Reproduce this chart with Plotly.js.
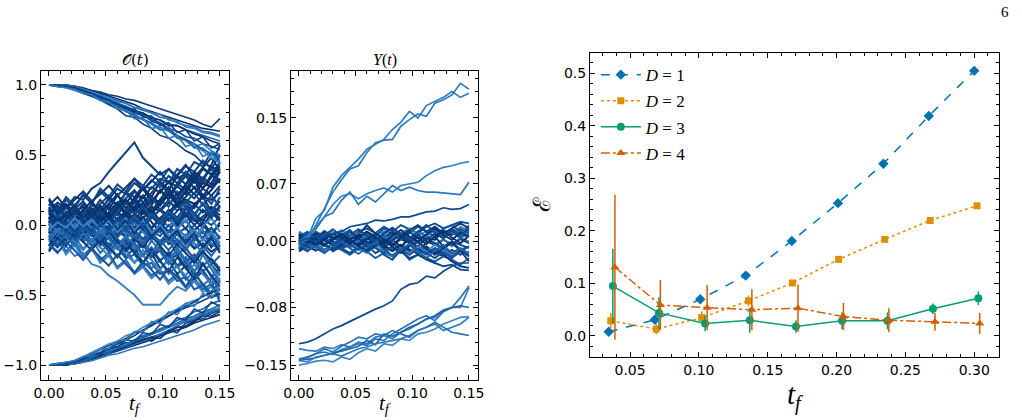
<!DOCTYPE html>
<html><head><meta charset="utf-8">
<script src="https://cdn.plot.ly/plotly-3.0.1.min.js"></script>
<style>html,body{margin:0;padding:0;background:#fff}#c{width:1022px;height:420px}</style>
</head><body><div id="c"></div>
<script>
// ---- time grid for trajectories ----
const tGrid = [0,0.0075,0.015,0.0225,0.03,0.0375,0.045,0.0525,0.06,0.0675,0.075,0.0825,0.09,0.0975,0.105,0.1125,0.12,0.1275,0.135,0.1425,0.15];

// ---- O(t) trajectories: upper branch ----
const O_top = [
[1.00,1.00,1.00,0.99,0.97,0.96,0.94,0.92,0.90,0.88,0.86,0.83,0.81,0.79,0.77,0.75,0.73,0.71,0.69,0.68,0.67],
[1.00,1.00,0.99,0.98,0.96,0.94,0.92,0.90,0.87,0.85,0.82,0.80,0.77,0.75,0.72,0.71,0.68,0.66,0.64,0.62,0.60],
[1.00,0.99,0.99,0.97,0.95,0.93,0.91,0.88,0.86,0.83,0.80,0.78,0.75,0.73,0.69,0.67,0.63,0.62,0.58,0.56,0.54],
[1.00,1.00,0.99,0.97,0.95,0.92,0.90,0.87,0.83,0.82,0.77,0.76,0.72,0.68,0.70,0.63,0.61,0.56,0.58,0.53,0.50],
[1.00,1.00,1.00,0.99,0.98,0.96,0.95,0.93,0.92,0.90,0.89,0.87,0.85,0.83,0.81,0.79,0.77,0.75,0.72,0.70,0.76],
[1.00,0.99,0.98,0.96,0.94,0.92,0.89,0.86,0.84,0.81,0.78,0.76,0.72,0.70,0.67,0.63,0.60,0.56,0.53,0.48,0.45],
[1.00,1.00,0.99,0.98,0.96,0.94,0.91,0.89,0.85,0.84,0.80,0.79,0.74,0.72,0.68,0.64,0.61,0.58,0.54,0.51,0.46],
[1.00,1.00,1.00,0.99,0.97,0.95,0.93,0.91,0.89,0.87,0.84,0.82,0.80,0.77,0.76,0.73,0.71,0.70,0.67,0.66,0.64],
[1.00,0.99,0.99,0.97,0.94,0.92,0.90,0.86,0.83,0.78,0.77,0.72,0.69,0.64,0.62,0.58,0.53,0.50,0.44,0.42,0.38],
[1.00,1.00,0.99,0.98,0.97,0.95,0.93,0.91,0.88,0.87,0.84,0.83,0.80,0.79,0.75,0.74,0.70,0.69,0.66,0.65,0.63],
[1.00,1.00,0.99,0.98,0.96,0.94,0.91,0.89,0.86,0.84,0.81,0.80,0.76,0.75,0.71,0.71,0.68,0.65,0.63,0.60,0.58],
[1.00,0.99,0.99,0.97,0.95,0.93,0.90,0.87,0.85,0.81,0.79,0.75,0.73,0.68,0.68,0.62,0.61,0.55,0.55,0.50,0.48],
[1.00,1.00,0.99,0.97,0.96,0.93,0.92,0.88,0.87,0.82,0.83,0.77,0.78,0.71,0.73,0.66,0.68,0.60,0.63,0.55,0.58],
[1.00,0.99,0.98,0.97,0.94,0.93,0.89,0.88,0.83,0.82,0.76,0.76,0.69,0.70,0.62,0.64,0.56,0.58,0.49,0.52,0.43]
];
// ---- O(t) trajectories: lower branch ----
const O_bot = [
[-1.00,-1.00,-1.00,-0.99,-0.98,-0.96,-0.94,-0.92,-0.90,-0.88,-0.86,-0.84,-0.82,-0.79,-0.77,-0.75,-0.73,-0.70,-0.68,-0.66,-0.64],
[-1.00,-1.00,-0.99,-0.98,-0.96,-0.94,-0.91,-0.89,-0.87,-0.85,-0.82,-0.79,-0.77,-0.75,-0.72,-0.70,-0.67,-0.65,-0.62,-0.60,-0.57],
[-1.00,-0.99,-0.99,-0.97,-0.95,-0.92,-0.89,-0.86,-0.84,-0.81,-0.77,-0.76,-0.71,-0.69,-0.65,-0.62,-0.59,-0.57,-0.54,-0.51,-0.49],
[-1.00,-1.00,-1.00,-0.99,-0.98,-0.97,-0.95,-0.93,-0.92,-0.90,-0.88,-0.87,-0.85,-0.83,-0.81,-0.79,-0.77,-0.75,-0.72,-0.70,-0.68],
[-1.00,-1.00,-0.99,-0.97,-0.96,-0.93,-0.92,-0.88,-0.87,-0.84,-0.85,-0.80,-0.83,-0.79,-0.75,-0.77,-0.70,-0.68,-0.64,-0.63,-0.60],
[-1.00,-0.99,-0.98,-0.97,-0.94,-0.91,-0.88,-0.85,-0.83,-0.79,-0.77,-0.73,-0.70,-0.67,-0.63,-0.60,-0.56,-0.54,-0.51,-0.47,-0.44],
[-1.00,-1.00,-0.99,-0.98,-0.97,-0.95,-0.93,-0.90,-0.89,-0.86,-0.85,-0.82,-0.81,-0.78,-0.77,-0.73,-0.72,-0.68,-0.67,-0.63,-0.61],
[-1.00,-1.00,-1.00,-0.99,-0.97,-0.95,-0.93,-0.92,-0.89,-0.88,-0.85,-0.83,-0.80,-0.78,-0.75,-0.72,-0.69,-0.67,-0.64,-0.62,-0.60],
[-1.00,-0.99,-0.99,-0.98,-0.96,-0.93,-0.91,-0.88,-0.85,-0.82,-0.79,-0.75,-0.72,-0.68,-0.65,-0.61,-0.58,-0.55,-0.51,-0.48,-0.46],
[-1.00,-1.00,-0.99,-0.98,-0.96,-0.94,-0.92,-0.90,-0.88,-0.85,-0.83,-0.81,-0.78,-0.76,-0.73,-0.71,-0.68,-0.66,-0.63,-0.61,-0.59],
[-1.00,-1.00,-1.00,-0.98,-0.97,-0.95,-0.93,-0.91,-0.89,-0.87,-0.84,-0.82,-0.80,-0.81,-0.76,-0.73,-0.73,-0.69,-0.65,-0.65,-0.62],
[-1.00,-1.00,-0.99,-0.99,-0.97,-0.95,-0.92,-0.91,-0.88,-0.86,-0.83,-0.80,-0.78,-0.74,-0.72,-0.68,-0.66,-0.62,-0.60,-0.56,-0.54],
[-1.00,-1.00,-0.99,-0.97,-0.96,-0.93,-0.92,-0.88,-0.87,-0.82,-0.83,-0.77,-0.78,-0.71,-0.73,-0.66,-0.68,-0.60,-0.63,-0.55,-0.58],
[-1.00,-0.99,-0.98,-0.97,-0.94,-0.93,-0.89,-0.88,-0.83,-0.82,-0.76,-0.76,-0.69,-0.70,-0.62,-0.64,-0.56,-0.58,-0.49,-0.52,-0.45]
];
// ---- O(t) trajectories: central band ----
const O_mid = [
[0.05,-0.03,0.08,0.02,0.10,0.04,0.12,0.06,0.15,0.10,0.18,0.12,0.20,0.16,0.24,0.19,0.28,0.22,0.30,0.27,0.33],
[-0.04,0.03,-0.07,-0.01,-0.10,-0.05,-0.13,-0.08,-0.16,-0.11,-0.20,-0.14,-0.23,-0.18,-0.26,-0.21,-0.30,-0.25,-0.33,-0.28,-0.36],
[0.15,0.08,0.18,0.12,0.22,0.15,0.26,0.20,0.29,0.24,0.33,0.28,0.36,0.31,0.40,0.35,0.42,0.38,0.46,0.40,0.50],
[-0.15,-0.08,-0.19,-0.12,-0.22,-0.16,-0.25,-0.20,-0.30,-0.25,-0.34,-0.29,-0.36,-0.32,-0.40,-0.35,-0.44,-0.38,-0.46,-0.42,-0.50],
[0.00,0.06,-0.02,0.05,0.01,0.08,0.02,0.09,0.04,0.10,0.03,0.12,0.05,0.11,0.07,0.14,0.06,0.15,0.09,0.13,0.10],
[0.02,-0.05,0.01,-0.06,-0.02,-0.08,-0.03,-0.10,-0.04,-0.09,-0.06,-0.12,-0.05,-0.14,-0.08,-0.13,-0.07,-0.16,-0.10,-0.15,-0.12],
[0.19,0.10,0.20,0.14,0.21,0.16,0.24,0.18,0.26,0.22,0.30,0.25,0.32,0.27,0.35,0.30,0.38,0.33,0.41,0.36,0.44],
[-0.18,-0.10,-0.21,-0.14,-0.24,-0.17,-0.27,-0.22,-0.31,-0.26,-0.35,-0.30,-0.38,-0.33,-0.42,-0.37,-0.45,-0.40,-0.48,-0.44,-0.52],
[0.08,0.01,0.10,0.04,0.11,0.06,0.14,0.07,0.16,0.09,0.17,0.12,0.20,0.14,0.22,0.16,0.24,0.19,0.26,0.21,0.28],
[-0.08,-0.01,-0.11,-0.04,-0.12,-0.06,-0.15,-0.09,-0.17,-0.10,-0.19,-0.13,-0.21,-0.16,-0.24,-0.18,-0.26,-0.21,-0.29,-0.24,-0.31],
[0.04,0.10,0.03,0.12,0.06,0.15,0.10,0.19,0.13,0.23,0.16,0.27,0.20,0.31,0.25,0.35,0.29,0.38,0.33,0.42,0.37],
[-0.03,-0.10,-0.02,-0.12,-0.05,-0.15,-0.09,-0.19,-0.12,-0.23,-0.16,-0.27,-0.20,-0.31,-0.25,-0.35,-0.29,-0.39,-0.33,-0.43,-0.38],
[0.00,-0.02,0.03,0.00,0.04,-0.01,0.05,0.01,0.03,-0.02,0.04,0.00,0.06,0.02,0.05,-0.01,0.07,0.03,0.04,0.00,0.06],
[-0.01,0.02,-0.04,0.01,-0.03,0.03,-0.05,0.00,-0.06,0.02,-0.04,-0.01,-0.07,0.01,-0.05,-0.03,-0.08,0.00,-0.06,-0.02,-0.09],
[0.11,0.04,0.13,0.07,0.15,0.09,0.18,0.11,0.21,0.15,0.24,0.19,0.27,0.23,0.31,0.27,0.36,0.31,0.40,0.36,0.45],
[-0.12,-0.05,-0.14,-0.08,-0.17,-0.10,-0.20,-0.13,-0.23,-0.17,-0.27,-0.21,-0.31,-0.25,-0.35,-0.29,-0.39,-0.33,-0.43,-0.38,-0.47],
[0.10,0.16,0.12,0.20,0.18,0.26,0.30,0.38,0.45,0.52,0.59,0.48,0.42,0.36,0.40,0.33,0.37,0.30,0.34,0.29,0.32],
[-0.13,-0.19,-0.15,-0.22,-0.20,-0.28,-0.30,-0.36,-0.40,-0.45,-0.50,-0.57,-0.57,-0.57,-0.50,-0.44,-0.47,-0.40,-0.43,-0.38,-0.41],
[0.06,0.00,0.09,0.05,0.07,0.12,0.08,0.15,0.10,0.18,0.12,0.20,0.15,0.25,0.18,0.28,0.22,0.32,0.26,0.36,0.30],
[-0.06,0.00,-0.09,-0.04,-0.07,-0.12,-0.08,-0.16,-0.10,-0.19,-0.13,-0.22,-0.16,-0.26,-0.19,-0.29,-0.23,-0.33,-0.27,-0.37,-0.31],
[0.13,0.06,0.09,0.02,0.07,0.00,0.06,0.03,0.09,0.05,0.11,0.08,0.13,0.10,0.16,0.13,0.18,0.15,0.20,0.18,0.23],
[-0.10,-0.16,-0.09,-0.14,-0.06,-0.11,-0.05,-0.09,-0.03,-0.08,-0.04,-0.10,-0.06,-0.12,-0.08,-0.14,-0.10,-0.17,-0.13,-0.19,-0.15],
[0.02,0.08,0.04,0.10,0.07,0.14,0.11,0.18,0.15,0.23,0.20,0.28,0.26,0.33,0.30,0.40,0.36,0.45,0.42,0.52,0.48],
[-0.02,-0.08,-0.04,-0.11,-0.08,-0.15,-0.12,-0.19,-0.16,-0.24,-0.21,-0.29,-0.27,-0.35,-0.32,-0.40,-0.37,-0.46,-0.43,-0.52,-0.49],
[0.17,0.12,0.15,0.09,0.13,0.07,0.12,0.05,0.10,0.03,0.08,0.02,0.07,0.00,0.05,-0.02,0.03,-0.04,0.02,-0.06,0.00],
[-0.17,-0.11,-0.14,-0.07,-0.12,-0.05,-0.10,-0.03,-0.08,0.00,-0.05,0.02,-0.03,0.04,-0.01,0.06,0.02,0.08,0.03,0.10,0.05],
[0.03,-0.04,0.06,0.00,0.08,0.03,0.11,0.05,0.13,0.08,0.16,0.10,0.19,0.14,0.23,0.18,0.27,0.22,0.32,0.27,0.38],
[-0.05,0.01,-0.06,-0.01,-0.09,-0.03,-0.11,-0.06,-0.14,-0.08,-0.17,-0.11,-0.20,-0.15,-0.24,-0.19,-0.28,-0.23,-0.33,-0.28,-0.40],
[0.09,0.14,0.06,0.12,0.04,0.10,0.05,0.13,0.07,0.16,0.11,0.21,0.14,0.25,0.19,0.30,0.25,0.36,0.31,0.43,0.57],
[-0.09,-0.14,-0.07,-0.13,-0.05,-0.11,-0.07,-0.14,-0.10,-0.17,-0.13,-0.21,-0.17,-0.25,-0.21,-0.30,-0.26,-0.36,-0.32,-0.41,-0.55],
[0.12,-0.02,0.05,-0.08,0.02,-0.05,0.08,0.01,-0.06,0.04,-0.03,0.10,0.02,-0.05,0.07,0.00,0.12,0.04,-0.02,0.09,0.03],
[-0.06,0.08,-0.03,0.05,-0.09,0.02,-0.04,0.06,-0.08,-0.01,-0.12,-0.03,-0.09,0.01,-0.14,-0.06,-0.02,-0.11,-0.04,-0.16,-0.08],
[0.00,0.10,0.04,0.14,0.06,0.02,0.11,0.05,0.16,0.09,0.20,0.12,0.08,0.18,0.13,0.24,0.17,0.12,0.22,0.15,0.26],
[0.03,-0.09,-0.02,-0.12,-0.05,-0.15,-0.08,-0.04,-0.14,-0.09,-0.19,-0.12,-0.22,-0.15,-0.10,-0.21,-0.16,-0.25,-0.18,-0.28,-0.22],
[-0.15,-0.05,-0.11,0.00,-0.07,0.04,-0.03,0.06,0.00,0.09,0.03,-0.02,0.07,0.02,0.11,0.05,0.14,0.08,0.03,0.12,0.07],
[0.15,0.05,0.10,-0.02,0.06,-0.04,0.03,-0.07,0.01,-0.05,-0.10,-0.02,-0.08,0.00,-0.12,-0.06,-0.15,-0.09,-0.04,-0.13,-0.18],
[0.07,0.13,0.05,0.11,0.17,0.09,0.15,0.21,0.13,0.19,0.25,0.16,0.23,0.30,0.22,0.28,0.35,0.26,0.33,0.40,0.31],
[-0.07,-0.14,-0.06,-0.12,-0.18,-0.10,-0.16,-0.22,-0.14,-0.21,-0.27,-0.18,-0.25,-0.32,-0.24,-0.30,-0.36,-0.28,-0.35,-0.42,-0.33],
[0.01,0.05,-0.03,0.02,0.07,0.00,0.04,-0.04,0.03,0.08,0.01,0.06,-0.02,0.05,0.10,0.02,0.07,0.00,0.06,0.11,0.04],
[-0.02,-0.07,0.01,-0.04,0.03,-0.03,-0.08,-0.01,-0.06,0.02,-0.05,-0.10,-0.03,-0.08,0.00,-0.07,-0.12,-0.04,-0.09,-0.02,-0.10],
[0.18,0.08,0.14,0.04,0.11,0.17,0.09,0.15,0.22,0.12,0.19,0.26,0.17,0.24,0.31,0.21,0.29,0.36,0.26,0.34,0.42],
[-0.19,-0.09,-0.15,-0.05,-0.12,-0.18,-0.10,-0.16,-0.23,-0.13,-0.20,-0.27,-0.18,-0.26,-0.33,-0.23,-0.31,-0.38,-0.28,-0.36,-0.44],
[0.05,0.00,0.09,0.03,-0.02,0.06,0.12,0.04,0.10,0.16,0.08,0.14,0.20,0.11,0.18,0.10,0.16,0.23,0.14,0.21,0.13],
[-0.05,0.00,-0.09,-0.03,0.02,-0.06,-0.12,-0.04,-0.10,-0.16,-0.08,-0.14,-0.20,-0.11,-0.18,-0.10,-0.17,-0.24,-0.15,-0.22,-0.14],
[0.09,0.02,0.07,-0.01,0.04,-0.03,0.02,0.08,0.00,0.06,-0.02,0.05,0.11,0.03,0.09,0.16,0.07,0.13,0.20,0.10,0.17],
[-0.09,-0.02,-0.07,0.01,-0.04,0.03,-0.02,-0.08,0.00,-0.06,0.02,-0.05,-0.11,-0.03,-0.09,-0.16,-0.07,-0.13,-0.20,-0.10,-0.17],
[0.00,0.03,-0.05,0.04,-0.02,0.07,0.01,-0.06,0.03,-0.04,0.06,-0.01,0.09,0.02,-0.05,0.05,-0.03,0.08,0.00,-0.07,0.02],
[0.01,-0.04,0.05,-0.02,0.06,-0.03,0.02,-0.07,0.01,0.05,-0.04,0.03,-0.08,0.00,0.07,-0.03,0.04,-0.09,-0.01,0.05,-0.05],
[0.14,0.20,0.12,0.18,0.24,0.17,0.22,0.28,0.21,0.27,0.33,0.25,0.31,0.38,0.30,0.36,0.43,0.34,0.41,0.48,0.39],
[-0.14,-0.20,-0.12,-0.18,-0.25,-0.17,-0.23,-0.29,-0.21,-0.28,-0.34,-0.26,-0.32,-0.39,-0.31,-0.37,-0.44,-0.35,-0.42,-0.49,-0.40],
[0.06,-0.01,0.04,0.10,0.02,0.07,0.13,0.05,0.12,0.18,0.10,0.16,0.08,0.15,0.22,0.14,0.20,0.27,0.19,0.25,0.33],
[-0.06,0.01,-0.04,-0.10,-0.02,-0.07,-0.13,-0.05,-0.12,-0.18,-0.10,-0.16,-0.08,-0.15,-0.22,-0.14,-0.20,-0.27,-0.19,-0.25,-0.33],
[0.02,0.07,0.00,0.05,-0.01,0.04,0.09,0.02,0.08,0.01,0.07,0.13,0.05,0.11,0.03,0.10,0.17,0.08,0.15,0.06,0.14],
[-0.03,-0.08,-0.01,-0.06,0.00,-0.05,-0.10,-0.03,-0.09,-0.02,-0.08,-0.14,-0.06,-0.12,-0.04,-0.11,-0.18,-0.09,-0.16,-0.07,-0.15],
[0.10,0.03,0.08,0.14,0.05,0.11,0.03,0.09,0.16,0.07,0.13,0.21,0.10,0.18,0.27,0.15,0.24,0.33,0.20,0.30,0.40],
[-0.11,-0.04,-0.09,-0.15,-0.06,-0.12,-0.04,-0.10,-0.17,-0.08,-0.14,-0.22,-0.11,-0.19,-0.28,-0.16,-0.25,-0.34,-0.21,-0.31,-0.42],
[0.04,-0.02,0.02,-0.05,0.01,-0.04,0.03,-0.03,0.05,-0.01,0.04,-0.03,0.06,0.00,0.08,0.02,0.09,0.03,0.11,0.05,0.13],
[-0.04,0.02,-0.02,0.05,-0.01,0.04,-0.03,0.03,-0.05,0.01,-0.04,0.03,-0.06,0.00,-0.08,-0.02,-0.09,-0.03,-0.11,-0.05,-0.13],
[0.08,0.14,0.05,0.10,0.02,0.07,-0.01,0.05,-0.03,0.03,-0.06,0.01,-0.08,-0.02,-0.10,-0.04,-0.13,-0.06,-0.16,-0.09,-0.20],
[-0.08,-0.14,-0.05,-0.10,-0.02,-0.07,0.01,-0.05,0.03,-0.03,0.06,-0.01,0.08,0.02,0.10,0.04,0.13,0.06,0.16,0.09,0.20]
];
// ---- Y(t) trajectories: drifting ones ----
const Y_drift = [
[0.000,0.002,0.020,0.040,0.060,0.075,0.088,0.092,0.108,0.120,0.123,0.124,0.140,0.148,0.155,0.152,0.168,0.172,0.178,0.192,0.185],
[0.000,0.004,0.028,0.038,0.066,0.080,0.090,0.100,0.112,0.118,0.124,0.136,0.145,0.158,0.150,0.165,0.170,0.175,0.182,0.175,0.180],
[0.000,0.005,0.018,0.030,0.045,0.055,0.058,0.052,0.058,0.062,0.065,0.060,0.068,0.070,0.072,0.080,0.086,0.090,0.092,0.095,0.097],
[0.000,0.008,0.015,0.030,0.035,0.050,0.060,0.045,0.055,0.048,0.058,0.068,0.062,0.066,0.062,0.060,0.060,0.059,0.058,0.057,0.072],
[0.000,0.004,-0.002,0.006,0.010,0.012,0.018,0.020,0.022,0.026,0.025,0.027,0.030,0.030,0.033,0.036,0.037,0.041,0.039,0.040,0.045],
[-0.124,-0.122,-0.118,-0.112,-0.106,-0.102,-0.097,-0.092,-0.087,-0.082,-0.078,-0.072,-0.058,-0.052,-0.050,-0.042,-0.044,-0.036,-0.030,-0.026,-0.026],
[-0.130,-0.132,-0.133,-0.128,-0.130,-0.125,-0.128,-0.122,-0.124,-0.116,-0.114,-0.118,-0.110,-0.106,-0.100,-0.094,-0.092,-0.084,-0.080,-0.080,-0.056],
[-0.143,-0.140,-0.136,-0.134,-0.137,-0.131,-0.128,-0.124,-0.126,-0.118,-0.120,-0.112,-0.106,-0.100,-0.094,-0.090,-0.096,-0.085,-0.080,-0.068,-0.054],
[-0.142,-0.143,-0.141,-0.138,-0.135,-0.133,-0.130,-0.127,-0.120,-0.125,-0.112,-0.115,-0.110,-0.104,-0.100,-0.094,-0.090,-0.083,-0.080,-0.078,-0.080],
[-0.150,-0.148,-0.145,-0.144,-0.146,-0.140,-0.143,-0.135,-0.130,-0.133,-0.124,-0.126,-0.118,-0.120,-0.112,-0.110,-0.106,-0.100,-0.096,-0.092,-0.091],
[-0.144,-0.146,-0.140,-0.138,-0.136,-0.139,-0.134,-0.130,-0.128,-0.124,-0.122,-0.120,-0.118,-0.114,-0.108,-0.104,-0.100,-0.108,-0.104,-0.100,-0.092],
[-0.145,-0.141,-0.136,-0.130,-0.134,-0.127,-0.122,-0.116,-0.118,-0.112,-0.114,-0.108,-0.112,-0.116,-0.108,-0.104,-0.098,-0.104,-0.110,-0.112,-0.114]
];
// ---- Y(t) trajectories: central band ----
const Y_band = [
[0.004,-0.003,0.006,0.001,-0.004,0.005,0.002,-0.003,0.008,0.003,-0.002,0.010,0.005,0.000,0.012,0.006,0.002,0.014,0.008,0.015,0.010],
[-0.005,0.002,-0.006,0.003,-0.002,-0.008,0.001,-0.005,-0.010,0.000,-0.006,-0.012,-0.004,-0.010,-0.015,-0.008,-0.013,-0.018,-0.010,-0.016,-0.012],
[0.010,0.004,0.012,0.006,0.014,0.008,0.004,0.012,0.016,0.010,0.018,0.012,0.020,0.015,0.010,0.018,0.022,0.016,0.020,0.024,0.022],
[-0.010,-0.004,-0.008,-0.014,-0.006,-0.010,-0.016,-0.008,-0.012,-0.020,-0.014,-0.018,-0.010,-0.022,-0.016,-0.020,-0.024,-0.018,-0.022,-0.028,-0.020],
[0.000,0.006,-0.002,0.004,0.000,-0.004,0.006,0.002,-0.003,0.004,0.000,-0.005,0.003,-0.002,0.005,0.000,-0.004,0.002,-0.003,0.003,-0.002],
[0.002,-0.005,0.003,-0.004,0.005,-0.002,-0.006,0.003,-0.004,0.006,-0.003,0.002,-0.007,0.004,-0.002,0.007,-0.004,0.003,-0.006,0.005,0.000],
[-0.008,0.000,-0.010,-0.003,-0.012,-0.006,-0.002,-0.010,-0.004,-0.014,-0.008,-0.018,-0.012,-0.020,-0.016,-0.022,-0.026,-0.030,-0.028,-0.034,-0.035],
[0.012,0.006,0.010,0.002,0.008,0.014,0.006,0.010,0.002,0.008,0.012,0.004,0.010,0.016,0.008,0.012,0.006,0.014,0.010,0.018,0.012],
[-0.012,-0.006,-0.011,-0.004,-0.009,-0.002,-0.007,0.000,-0.006,0.002,-0.005,-0.010,-0.004,-0.012,-0.006,-0.014,-0.008,-0.016,-0.024,-0.030,-0.032],
[0.006,0.012,0.004,0.010,0.002,0.008,0.014,0.004,0.012,0.006,0.016,0.008,0.002,0.010,0.018,0.012,0.006,0.016,0.020,0.012,0.018],
[-0.003,0.004,0.010,0.002,-0.004,0.006,0.000,-0.006,0.004,-0.002,-0.008,0.002,-0.006,0.004,-0.010,-0.002,0.006,-0.006,0.000,-0.010,-0.006],
[0.008,0.000,0.005,0.011,0.003,0.009,0.002,0.008,0.020,0.010,0.004,0.012,0.006,-0.002,0.008,0.002,0.010,0.004,0.012,0.006,0.008],
[-0.006,-0.012,-0.004,-0.010,-0.002,-0.008,-0.014,-0.006,-0.012,-0.004,-0.016,-0.022,-0.010,-0.016,-0.008,-0.014,-0.020,-0.012,-0.018,-0.010,-0.016],
[0.003,0.009,0.003,0.008,0.015,0.006,0.012,0.004,0.010,0.000,0.008,0.002,0.010,0.004,0.000,0.008,0.014,0.006,0.012,0.004,0.014],
[0.000,-0.006,0.002,-0.004,0.004,0.010,0.002,0.008,0.000,-0.006,0.004,-0.002,-0.010,-0.004,-0.012,-0.006,-0.014,-0.008,-0.016,-0.010,-0.018],
[-0.004,0.002,-0.003,-0.010,-0.002,0.004,-0.006,0.000,0.008,-0.002,0.006,0.000,0.010,0.004,0.012,0.006,0.014,0.008,0.016,0.010,0.020],
[0.005,0.000,0.008,0.002,-0.004,0.002,0.012,0.004,-0.002,0.006,-0.004,0.002,0.008,0.000,-0.006,0.004,-0.002,-0.008,0.000,-0.004,-0.008],
[-0.007,-0.002,-0.009,-0.004,-0.010,-0.004,0.000,-0.008,-0.014,-0.006,-0.012,-0.018,-0.008,-0.014,-0.006,-0.012,-0.004,-0.010,-0.016,-0.008,-0.014],
[0.001,0.007,0.000,-0.005,0.004,0.008,-0.002,0.004,-0.004,0.002,0.010,0.016,0.008,0.014,0.020,0.012,0.018,0.010,0.016,0.022,0.016],
[-0.001,-0.007,0.001,0.006,-0.003,-0.009,-0.004,-0.010,-0.002,-0.008,-0.014,-0.006,-0.012,-0.004,-0.010,-0.016,-0.008,-0.014,-0.020,-0.012,-0.006],
[0.009,0.002,-0.004,0.003,0.010,0.004,-0.003,0.006,0.012,0.005,-0.002,0.007,0.014,0.006,0.000,0.009,0.016,0.008,0.002,0.011,0.006],
[-0.009,-0.002,0.004,-0.003,-0.010,-0.004,0.003,-0.006,-0.012,-0.005,0.002,-0.007,-0.014,-0.006,0.000,-0.009,-0.016,-0.008,-0.002,-0.011,-0.024],
[0.002,0.010,0.005,0.013,0.006,0.000,0.008,0.015,0.007,0.001,0.010,0.017,0.009,0.003,0.012,0.020,0.011,0.004,0.014,0.008,0.016],
[-0.002,-0.010,-0.005,-0.013,-0.006,0.000,-0.008,-0.015,-0.007,-0.001,-0.010,-0.017,-0.009,-0.003,-0.012,-0.020,-0.011,-0.004,-0.014,-0.008,-0.016],
[0.006,-0.001,0.004,-0.004,0.002,0.009,0.001,-0.005,0.003,0.010,0.002,-0.004,0.005,0.012,0.004,-0.003,0.006,0.013,0.005,-0.002,0.007]
];
const Y_ticks = [-0.15,-0.08,0.00,0.07,0.15];
const Y_tickText = ['−0.15','−0.08','0.00','0.07','0.15'];

// ---- error vs t_f ----
const seriesNames = ['<i>D</i> = 1','<i>D</i> = 2','<i>D</i> = 3','<i>D</i> = 4'];
const tf_D1 = [0.0345,0.068,0.101,0.134,0.1675,0.201,0.234,0.267,0.300];
const eps_D1 = [0.008,0.031,0.070,0.115,0.181,0.253,0.328,0.419,0.505];
const err_D1 = [0.003,0.004,0.004,0.004,0.004,0.004,0.004,0.005,0.005];
const tf_D2 = [0.036,0.069,0.102,0.136,0.168,0.2015,0.235,0.268,0.302];
const eps_D2 = [0.029,0.013,0.035,0.067,0.101,0.146,0.184,0.220,0.248];
const err_D2 = [0.015,0.010,0.012,0.010,0.004,0.004,0.003,0.003,0.003];
const tf_D3 = [0.0375,0.071,0.1045,0.137,0.1705,0.204,0.237,0.270,0.303];
const eps_D3 = [0.095,0.044,0.024,0.030,0.018,0.029,0.029,0.052,0.072];
const err_D3 = [0.071,0.030,0.015,0.024,0.012,0.016,0.016,0.010,0.013];
const tf_D4 = [0.039,0.072,0.106,0.1385,0.172,0.205,0.238,0.2715,0.304];
const eps_D4 = [0.131,0.059,0.054,0.050,0.053,0.037,0.030,0.027,0.024];
const err_D4 = [0.138,0.048,0.043,0.039,0.045,0.026,0.023,0.017,0.020];

// ---- styles ----
const blues = ['#08306b','#1f63a8','#0c468a','#2e79bb','#0a3c7d','#3a86c4','#114f95','#2469ad','#083a78','#2f7dbf'];
const midBlues = ['#08306b','#0b3d7e','#0f4a8f','#1c5ea4','#08356f','#2a70b3','#0d4387','#3a82c2','#0a3a7a','#1656a0'];
const driftBlues = ['#2b78bb','#2f7dbf','#3080c1','#2a76b8','#0b4a8f','#0d4a8f','#2d79bb','#2a75b8','#1d63a8','#3a86c4','#2f79ba','#2a72b4'];
const pal = ['#0173b2','#de8f05','#029e73','#d55e00'];
const syms = ['diamond','square','circle','triangle-up'];
const dashes = ['dash','dot','solid','dashdot'];

const traces = [];
function addLines(arr, xa, ya, cols, w){
  arr.forEach((ys,i)=>traces.push({x:tGrid, y:ys, xaxis:xa, yaxis:ya, type:'scatter', mode:'lines',
    line:{color:cols[i%cols.length], width:w}, showlegend:false, hoverinfo:'skip'}));
}
addLines(O_mid,'x','y',midBlues,2);
addLines(O_top,'x','y',blues,1.6);
addLines(O_bot,'x','y',blues,1.6);
addLines(Y_band,'x2','y2',midBlues,1.9);
addLines(Y_drift,'x2','y2',driftBlues,1.7);

const TF=[tf_D1,tf_D2,tf_D3,tf_D4], EP=[eps_D1,eps_D2,eps_D3,eps_D4], ER=[err_D1,err_D2,err_D3,err_D4];
const msz=[8,7,8,8];
for(let k=0;k<4;k++){
  traces.push({x:TF[k], y:EP[k], xaxis:'x3', yaxis:'y3', type:'scatter', mode:'lines+markers', name:seriesNames[k],
    legendgroup:'g'+k,
    line:{color:pal[k], width:1.5, dash:dashes[k]}, marker:{color:pal[k], symbol:syms[k], size:msz[k]},
    error_y:{type:'data', array:ER[k], visible:true, color:pal[k], thickness:1.5, width:0}});
}

const tickFont = {family:'DejaVu Sans, sans-serif', size:14, color:'#000'};
const mk = (t0,dt)=>({ticks:'inside', ticklen:3, tickwidth:1, tickcolor:'#000', tick0:t0, dtick:dt});
function ax(extra){
  return Object.assign({showgrid:false, zeroline:false, showline:true, linecolor:'#000', linewidth:1, mirror:'ticks',
    ticks:'inside', ticklen:5, tickwidth:1, tickcolor:'#000', tickfont:tickFont}, extra);
}
const yd = [0.0952, 0.831];
const layout = {
  width:1022, height:420, margin:{l:0,r:0,t:0,b:0}, paper_bgcolor:'#fff', plot_bgcolor:'#fff',
  showlegend:true,
  xaxis: ax({domain:[0.0401,0.2241], range:[-0.007,0.158], tickvals:[0,0.05,0.1,0.15], ticktext:['0.00','0.05','0.10','0.15'], minor:mk(0,0.01), anchor:'y'}),
  yaxis: ax({domain:yd, range:[-1.107,1.1], tickvals:[-1,-0.5,0,0.5,1], ticktext:['−1.0','−0.5','0.0','0.5','1.0'], minor:mk(0,0.1), anchor:'x'}),
  xaxis2: ax({domain:[0.2847,0.4677], range:[-0.007,0.158], tickvals:[0,0.05,0.1,0.15], ticktext:['0.00','0.05','0.10','0.15'], minor:mk(0,0.01), anchor:'y2'}),
  yaxis2: ax({domain:yd, range:[-0.168,0.207], tickvals:Y_ticks, ticktext:Y_tickText, minor:mk(0.15,0.016), anchor:'x2'}),
  xaxis3: ax({domain:[0.5773,0.9775], range:[0.0209,0.318], tickvals:[0.05,0.1,0.15,0.2,0.25,0.3], ticktext:['0.05','0.10','0.15','0.20','0.25','0.30'], minor:mk(0,0.01), anchor:'y3'}),
  yaxis3: ax({domain:[0.15,0.8738], range:[-0.04,0.539], tickvals:[0,0.1,0.2,0.3,0.4,0.5], ticktext:['0.0','0.1','0.2','0.3','0.4','0.5'], minor:mk(0,0.02), anchor:'x3',
    title:{text:'ℰ', font:{family:'DejaVu Serif, serif', size:24, color:'#000'}, standoff:6}}),
  legend:{x:0.583, y:0.864, xanchor:'left', yanchor:'top', bgcolor:'rgba(0,0,0,0)', borderwidth:0,
    font:{family:'Liberation Serif, serif', size:17, color:'#000'}, tracegroupgap:1, itemwidth:40},
  annotations:[
    {text:'𝒪(<i>t</i>)', x:135, y:60, font:{family:'DejaVu Serif, serif', size:15, color:'#000'}},
    {text:'<i>Y</i>(<i>t</i>)', x:385, y:60, font:{family:'Liberation Serif, serif', size:16, color:'#000'}},
    {text:'<i>t</i><sub><i>f</i></sub>', x:135, y:404, font:{family:'Liberation Serif, serif', size:21, color:'#000'}},
    {text:'<i>t</i><sub><i>f</i></sub>', x:385, y:404, font:{family:'Liberation Serif, serif', size:21, color:'#000'}},
    {text:'<i>t</i><sub><i>f</i></sub>', x:795, y:396, font:{family:'Liberation Serif, serif', size:29, color:'#000'}},
    {text:'6', x:1005, y:12, font:{family:'Liberation Serif, serif', size:15, color:'#000'}}
  ].map(a=>Object.assign(a,{xref:'paper', yref:'paper', showarrow:false, x:a.x/1022, y:1-a.y/420, xanchor:'center', yanchor:'middle'}))
};
Plotly.newPlot('c', traces, layout, {staticPlot:true, displayModeBar:false});
</script></body></html>
